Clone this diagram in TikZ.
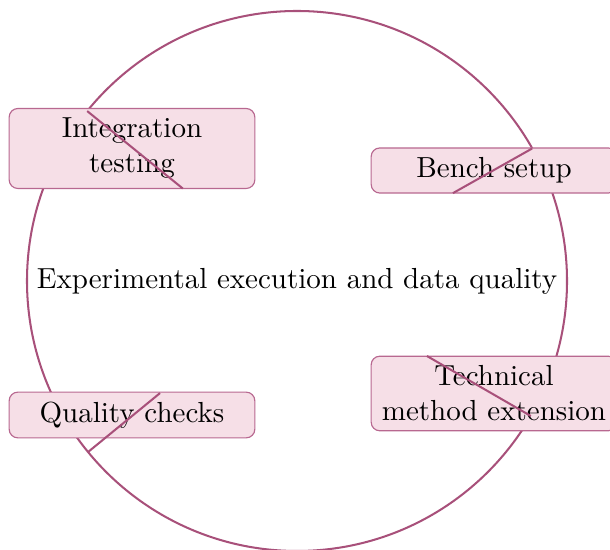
\documentclass[tikz,border=0pt]{standalone}
\usepackage{tikz}
\usepackage{xcolor}
\usetikzlibrary{calc}

\definecolor{ringcol}{RGB}{168,80,122}
\definecolor{boxfill}{RGB}{246,223,231}
\definecolor{boxline}{RGB}{184,104,144}

\begin{document}
\begin{tikzpicture}[x=0.3446pt,y=0.3446pt]
\tikzset{stage/.style={draw=boxline,fill=boxfill,rounded corners=3pt,text width=78pt,align=center}}
\tikzset{ring/.style={draw=ringcol,line width=0.7pt}}
\tikzset{barb/.style={draw=ringcol,line width=0.7pt}}

\useasboundingbox (-297,-269) rectangle (313,281);

\coordinate (c) at (0,0);
\draw[ring] (c) circle (270);

\node[stage] (integ) at (-165,132.5) {Integration testing};
\node[stage] (bench) at (197,110.5) {Bench setup};
\node[stage] (qual) at (-165,-134) {Quality checks};
\node[stage] (tech) at (197,-112.5) {Technical method extension};

% tips on the ring and where the barbs stop
\coordinate (integ tip) at (141:270);
\coordinate (integ end) at (141:147);
\coordinate (bench tip) at (29.4:270);
\coordinate (bench end) at (29.4:179);
\coordinate (qual tip) at (219.3:270);
\coordinate (qual end) at (219.3:177);
\coordinate (tech tip) at (330:270);
\coordinate (tech end) at (330:150);

\draw[barb] (integ tip) -- (integ end);
\draw[barb] (bench tip) -- (bench end);
\draw[barb] (qual tip) -- (qual end);
\draw[barb] (tech tip) -- (tech end);

\node (hub) at (c) {Experimental execution and data quality};

\end{tikzpicture}
\end{document}
